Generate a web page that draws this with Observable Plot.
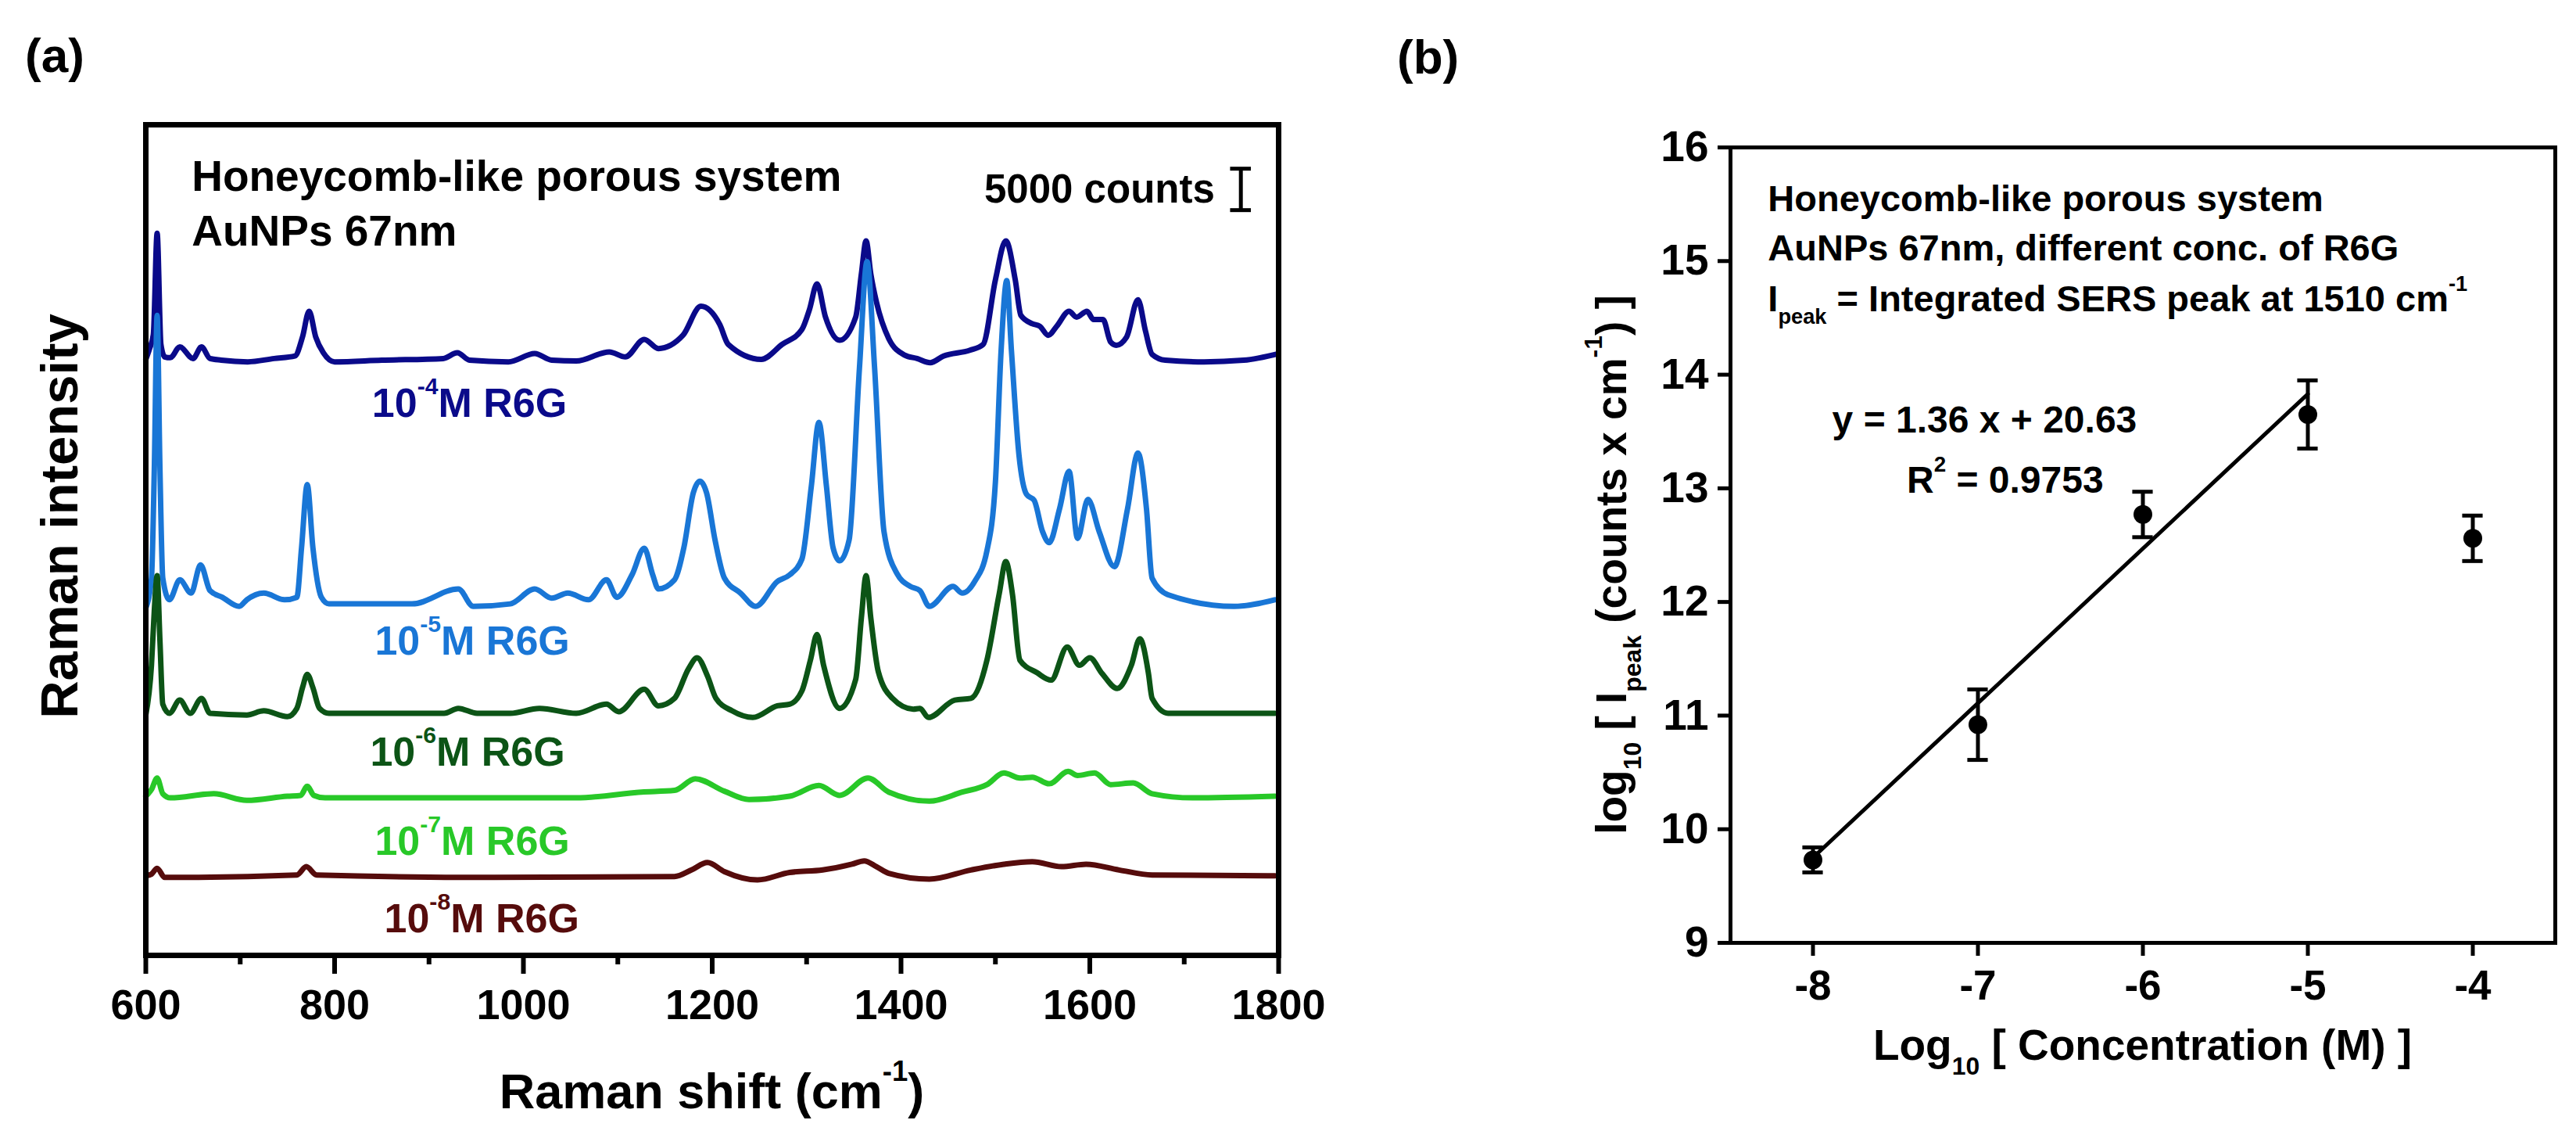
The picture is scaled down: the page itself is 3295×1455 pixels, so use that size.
<!DOCTYPE html>
<html><head><meta charset="utf-8">
<script src="https://cdn.jsdelivr.net/npm/d3@7"></script>
<script src="https://cdn.jsdelivr.net/npm/@observablehq/plot@0.6"></script>
<style>
html,body{margin:0;padding:0;background:#fff;}
#root{position:relative;width:3295px;height:1455px;overflow:hidden;background:#fff;}
#root svg{position:absolute;top:0;}
</style></head><body><div id="root"></div>
<script>
const FONT = '"Liberation Sans", Arial, Helvetica, sans-serif';

// ---------- Panel (a): SERS spectra, [wavenumber cm-1, intensity above own baseline (kcounts)] ----------
const spec4 = [[600,0],[604,1.3],[608,3.0],[612,15.2],[616,1.8],[620,0.3],[626,0.2],[636,1.5],[650,0.1],[659,1.5],[668,0.1],[680,-0.1],[708,-0.3],[736,0.1],[758,0.4],[766,2.7],[773,5.8],[780,2.7],[788,0.8],[800,-0.3],[850,-0.1],[915,0.1],[930,0.8],[943,-0.1],[984,-0.3],[1012,0.7],[1030,-0.1],[1056,-0.2],[1091,0.9],[1108,0.3],[1128,2.4],[1143,1.3],[1169,2.9],[1188,6.4],[1208,4.2],[1217,1.8],[1252,0],[1274,1.8],[1295,3.6],[1303,6.0],[1311,9.1],[1320,5.1],[1335,2.3],[1352,5.1],[1358,10.3],[1363,14.3],[1368,10.3],[1374,6.9],[1387,2.5],[1404,0.5],[1417,0.1],[1431,-0.4],[1445,0.4],[1473,1.1],[1487,1.8],[1500,9.6],[1511,14.3],[1521,9.6],[1527,5.3],[1539,4.3],[1547,4.0],[1556,2.9],[1565,4.0],[1578,5.8],[1586,5.1],[1597,5.8],[1604,4.8],[1614,4.8],[1622,2.1],[1628,1.7],[1639,2.7],[1651,7.2],[1659,3.4],[1666,0.6],[1680,-0.1],[1721,-0.3],[1763,-0.1],[1800,0.7]];
const spec5 = [[600,-0.5],[606,3.1],[609,16.2],[612,34.8],[615,16.2],[618,3.1],[625,0.5],[636,2.9],[648,1.3],[658,4.7],[668,1.6],[681,0.8],[699,-0.3],[707,0.5],[725,1.3],[747,0.5],[760,0.8],[765,6.8],[771,14.4],[777,6.8],[786,0.8],[794,0],[882,0],[931,1.8],[947,-0.3],[986,0],[1012,1.8],[1030,0.7],[1047,1.3],[1069,0.5],[1088,2.9],[1099,0.8],[1115,3.5],[1128,6.7],[1137,3.5],[1143,1.8],[1160,2.9],[1170,6.8],[1180,13.4],[1187,14.8],[1194,13.4],[1203,7.7],[1213,3.1],[1230,1.3],[1246,-0.3],[1269,2.7],[1282,3.5],[1295,5.4],[1305,14.2],[1313,21.9],[1321,14.2],[1328,6.8],[1335,5.2],[1345,7.7],[1356,28.5],[1364,41.3],[1372,28.5],[1382,8.7],[1396,3.6],[1410,2.1],[1420,1.6],[1430,-0.3],[1455,2.1],[1465,1.3],[1478,2.7],[1491,6.4],[1500,14.7],[1506,30.5],[1512,39.0],[1517,30.5],[1525,17.9],[1533,13.2],[1541,12.5],[1550,8.7],[1557,7.4],[1568,11.5],[1578,16.0],[1587,7.9],[1598,12.6],[1610,8.7],[1626,4.5],[1640,11.5],[1651,18.2],[1660,11.5],[1666,3.1],[1683,1.1],[1753,-0.3],[1796,0.5]];
const spec6 = [[600,0],[606,6.0],[609,12.6],[612,16.8],[615,8.9],[618,1.3],[625,0.2],[636,1.8],[647,0.2],[659,2.0],[668,0.2],[707,0],[725,0.5],[750,-0.2],[760,0.8],[766,3.3],[771,4.9],[777,3.3],[784,0.8],[794,0.2],[916,0.2],[931,0.8],[951,0.2],[986,0.2],[1017,0.8],[1056,0.2],[1088,1.3],[1101,0.4],[1128,3.1],[1143,1.1],[1160,2.0],[1175,5.6],[1184,6.9],[1195,4.7],[1204,2.0],[1221,0.5],[1243,-0.3],[1269,1.1],[1282,1.3],[1295,2.9],[1304,6.6],[1311,9.7],[1318,6.0],[1335,0.8],[1352,4.3],[1358,11.7],[1363,16.8],[1368,11.7],[1376,5.2],[1391,2.0],[1413,0.7],[1420,0.8],[1429,-0.3],[1457,1.8],[1474,2.0],[1491,6.6],[1504,14.6],[1511,18.5],[1518,14.6],[1526,6.6],[1544,5.1],[1559,4.2],[1576,8.2],[1589,6.0],[1600,6.9],[1613,5.0],[1629,3.2],[1644,6.0],[1653,9.2],[1662,5.1],[1666,2.0],[1683,0.2],[1796,0.2]];
const spec7 = [[600,0],[606,0.8],[612,2.2],[618,0.3],[626,-0.2],[672,0.3],[707,-0.5],[750,0],[764,0.1],[771,1.2],[778,0.1],[790,-0.2],[882,-0.2],[1056,-0.2],[1125,0.5],[1160,0.7],[1182,2.1],[1213,0.6],[1239,-0.4],[1282,0],[1313,1.3],[1335,0.1],[1365,2.2],[1387,0.5],[1430,-0.6],[1465,0.5],[1491,1.4],[1509,2.8],[1526,2.2],[1539,2.3],[1557,1.5],[1577,3.0],[1587,2.5],[1605,2.8],[1622,1.4],[1646,1.6],[1666,0.3],[1709,-0.2],[1796,0]];
const spec8 = [[600,0],[606,0.2],[612,0.9],[620,-0.2],[760,0.1],[770,1.1],[781,0.1],[969,-0.2],[1160,-0.1],[1178,0.7],[1195,1.6],[1213,0.5],[1248,-0.5],[1282,0.4],[1317,0.7],[1348,1.4],[1361,1.8],[1374,1.1],[1387,0.3],[1430,-0.4],[1474,0.7],[1509,1.4],[1539,1.7],[1570,1.1],[1596,1.4],[1631,0.7],[1666,0.1],[1796,0]];

const seriesSpectra = [spec4, spec5, spec6, spec7, spec8];
const seriesExponents = ["-4", "-5", "-6", "-7", "-8"];
const seriesOffsets = [71.9, 42.4, 29.0, 19.2, 9.6];          // vertical stacking (kcounts)
const seriesColors = ["#0a0a8a", "#1976d6", "#0c5416", "#28c828", "#560c0c"];
const labelAnchors = [[840, 64.9], [843, 36.2], [838, 22.8], [843, 12.1], [853, 2.7]]; // [cm-1, kcounts]
const xTicksA = [600, 800, 1000, 1200, 1400, 1600, 1800];
const xMinorTicksA = [700, 900, 1100, 1300, 1500, 1700];
const scaleBar = {x: 1760, y1: 89.9, y2: 94.9, cap1: 1749, cap2: 1771};  // 5000 counts

// ---------- Panel (b): calibration ----------
const logConc = [-8, -7, -6, -5, -4];
const logIpeak = [9.73, 10.92, 12.77, 13.65, 12.56];
const logIpeakErr = [0.11, 0.31, 0.2, 0.3, 0.2];
const fitLine = [[-8, 9.75], [-5, 13.83]];
const xTicksB = [-8, -7, -6, -5, -4];
const yTicksB = [9, 10, 11, 12, 13, 14, 15, 16];

// ---------- build panel (a) ----------
const specRows = seriesSpectra.map((s, i) => s.map(([w, v]) => ({w, k: v + seriesOffsets[i]})));

const plotA = Plot.plot({
  width: 1700, height: 1455,
  marginLeft: 186, marginRight: 65, marginTop: 159, marginBottom: 234,
  x: {domain: [600, 1800], label: null},
  y: {domain: [0, 100.2], axis: null, label: null},
  style: {fontFamily: FONT, background: "transparent", color: "black"},
  marks: [
    ...specRows.map((rows, i) => Plot.line(rows, {x: "w", y: "k", stroke: seriesColors[i], strokeWidth: 7, curve: "monotone-x"})),
    Plot.ruleX([scaleBar], {x: "x", y1: "y1", y2: "y2", stroke: "black", strokeWidth: 5}),
    Plot.ruleY([scaleBar], {y: "y1", x1: "cap1", x2: "cap2", stroke: "black", strokeWidth: 5}),
    Plot.ruleY([scaleBar], {y: "y2", x1: "cap1", x2: "cap2", stroke: "black", strokeWidth: 5}),
    Plot.axisX(xTicksA, {tickSize: 24, tickPadding: 19, strokeWidth: 6, fontSize: 54, fontWeight: "bold", label: null, tickFormat: d => String(d)}),
    Plot.axisX(xMinorTicksA, {tickSize: 12, strokeWidth: 6, label: null, tickFormat: () => ""}),
    Plot.frame({stroke: "black", strokeWidth: 7})
  ]
});

// ---------- build panel (b) ----------
const pts = logConc.map((c, i) => ({c, v: logIpeak[i], e: logIpeakErr[i]}));
const capHalf = 0.062;
const plotB = Plot.plot({
  width: 1595, height: 1455,
  marginLeft: 513, marginRight: 27, marginTop: 188, marginBottom: 250,
  x: {domain: [-8.5, -3.5], label: null},
  y: {domain: [9, 16], label: null},
  style: {fontFamily: FONT, background: "transparent", color: "black"},
  marks: [
    Plot.line(fitLine, {x: d => d[0], y: d => d[1], stroke: "black", strokeWidth: 5}),
    Plot.ruleX(pts, {x: "c", y1: d => d.v - d.e, y2: d => d.v + d.e, stroke: "black", strokeWidth: 5}),
    Plot.ruleY(pts, {y: d => d.v - d.e, x1: d => d.c - capHalf, x2: d => d.c + capHalf, stroke: "black", strokeWidth: 5}),
    Plot.ruleY(pts, {y: d => d.v + d.e, x1: d => d.c - capHalf, x2: d => d.c + capHalf, stroke: "black", strokeWidth: 5}),
    Plot.dot(pts, {x: "c", y: "v", r: 12, fill: "black", stroke: "none"}),
    Plot.axisX(xTicksB, {tickSize: 17, tickPadding: 18, strokeWidth: 5, fontSize: 53, fontWeight: "bold", label: null, tickFormat: d => String(d)}),
    Plot.axisY(yTicksB, {tickSize: 16, tickPadding: 12, strokeWidth: 5, fontSize: 55, fontWeight: "bold", label: null, tickFormat: d => String(d)}),
    Plot.frame({stroke: "black", strokeWidth: 5})
  ]
});

const root = document.getElementById("root");
plotA.style.left = "0px";
plotB.style.left = "1700px";
root.appendChild(plotA);
root.appendChild(plotB);

function sc(plot, name) {
  const s = plot.scale(name);
  if (s && typeof s.apply === "function") return v => s.apply(v);
  return d3.scaleLinear(s.domain, s.range);
}

// rich text helper (superscripts / subscripts as tspans)
function rich(svg, x, y, parts, {size, fill = "black", anchor = "start", rotate = 0}) {
  const t = d3.select(svg).append("text")
    .attr("font-family", FONT).attr("font-weight", "bold").attr("font-size", size)
    .attr("fill", fill).attr("text-anchor", anchor)
    .attr("transform", `translate(${x},${y})` + (rotate ? ` rotate(${rotate})` : ""));
  let shift = 0;
  for (const p of parts) {
    const s = typeof p === "string" ? {t: p} : p;
    const ts = t.append("tspan").text(s.t);
    const target = s.sup ? -0.56 * size : s.sub ? 0.34 * size : 0;
    if (s.sup || s.sub) ts.attr("font-size", size * 0.58);
    if (target - shift !== 0) ts.attr("dy", target - shift);
    shift = target;
  }
  return t;
}

// panel (a) texts
const xa = sc(plotA, "x"), ya = sc(plotA, "y");
rich(plotA, 32, 92, ["(a)"], {size: 62});
rich(plotA, 99, 660, ["Raman intensity"], {size: 67, anchor: "middle", rotate: -90});
rich(plotA, (xa(600) + xa(1800)) / 2, 1417, ["Raman shift (cm", {sup: true, t: "-1"}, ")"], {size: 63, anchor: "middle"});
rich(plotA, xa(649), ya(92.2), ["Honeycomb-like porous system"], {size: 55});
rich(plotA, xa(649), ya(85.6), ["AuNPs 67nm"], {size: 55});
rich(plotA, xa(1488.6), ya(90.8), ["5000 counts"], {size: 51});
labelAnchors.forEach(([w, k], i) => {
  rich(plotA, xa(w), ya(k), ["10", {sup: true, t: seriesExponents[i]}, "M R6G"], {size: 52, fill: seriesColors[i]});
});

// panel (b) texts
const xb = sc(plotB, "x"), yb = sc(plotB, "y");
rich(plotB, 87, 94, ["(b)"], {size: 62});
rich(plotB, 380, 722, ["log", {sub: true, t: "10"}, " [ I", {sub: true, t: "peak"}, " (counts x cm", {sup: true, t: "-1"}, ") ]"], {size: 55, anchor: "middle", rotate: -90});
rich(plotB, xb(-6), 1355, ["Log", {sub: true, t: "10"}, " [ Concentration (M) ]"], {size: 55, anchor: "middle"});
rich(plotB, xb(-8.271), yb(15.436), ["Honeycomb-like porous system"], {size: 47});
rich(plotB, xb(-8.271), yb(15.002), ["AuNPs 67nm, different conc. of R6G"], {size: 47});
rich(plotB, xb(-8.271), yb(14.555), ["I", {sub: true, t: "peak"}, " = Integrated SERS peak at 1510 cm", {sup: true, t: "-1"}], {size: 47});
rich(plotB, xb(-7.881), yb(13.488), ["y = 1.36 x + 20.63"], {size: 48});
rich(plotB, xb(-7.429), yb(12.958), ["R", {sup: true, t: "2"}, " = 0.9753"], {size: 48});
</script>
</body></html>
